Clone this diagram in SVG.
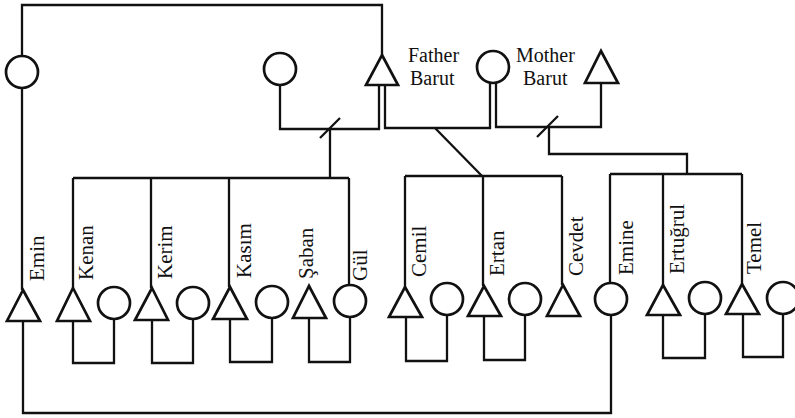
<svg xmlns="http://www.w3.org/2000/svg" width="795" height="418" viewBox="0 0 795 418">
<style>
.bg{fill:#fff}
.sh{fill:#fff;stroke:#111;stroke-width:2.7}
.ln{fill:none;stroke:#111;stroke-width:2.3;stroke-linejoin:miter}
.t{font-family:"Liberation Serif","Times New Roman",serif;font-size:21px;fill:#111}
.h{font-size:20px}
</style>
<rect class="bg" x="0" y="0" width="795" height="418"/>
<g id="connectors">
<path class="ln" d="M22,56 V5 H382 V55"/>
<path class="ln" d="M22,88 V290"/>
<path class="ln" d="M23,321 V413 H611 V315"/>
<path class="ln" d="M280,85 V129 H379 V85"/>
<path class="ln" d="M385,85 V128 H490 V83"/>
<path class="ln" d="M496,83 V127 H601 V83"/>
<path class="ln" d="M320,138 L340,118"/>
<path class="ln" d="M330,129 V178"/>
<path class="ln" d="M73,178 H349"/>
<path class="ln" d="M73,178 V288 M151,178 V288 M229,178 V287 M349,178 V285"/>
<path class="ln" d="M435,128 L482,176"/>
<path class="ln" d="M405,176 H562 M405,176 V287 M483,176 V286 M562,176 V285"/>
<path class="ln" d="M537,137 L558,116"/>
<path class="ln" d="M549,127 V154 H687 V174"/>
<path class="ln" d="M610,174 H742 M610,174 V283 M663,174 V285 M742,174 V284"/>
<path class="ln" d="M73,321 V363 H114 V319"/>
<path class="ln" d="M152,320 V363 H193 V319"/>
<path class="ln" d="M230,319 V362 H272 V318"/>
<path class="ln" d="M309,318 V362 H350 V317"/>
<path class="ln" d="M406,317 V361 H447 V315"/>
<path class="ln" d="M484,316 V360 H525 V315"/>
<path class="ln" d="M663,315 V358 H705 V314"/>
<path class="ln" d="M743,314 V357 H783 V314"/>
</g>
<g id="eminMother"><circle class="sh" cx="22" cy="72" r="16"/></g>
<g id="wifeFather"><circle class="sh" cx="280" cy="69" r="16"/></g>
<g id="fatherBarut"><path class="sh" d="M382,55 L398,85 L366,85 Z"/><text class="t h" x="408" y="62">Father</text><text class="t h" x="410" y="85">Barut</text></g>
<g id="motherMid"><circle class="sh" cx="493" cy="67" r="16"/></g>
<g id="motherBarut"><path class="sh" d="M601,51 L618,83 L585,83 Z"/><text class="t h" x="516" y="62">Mother</text><text class="t h" x="523" y="85">Barut</text></g>
<g id="emin"><path class="sh" d="M23,290 L40,321 L7,321 Z"/><text class="t" transform="translate(44,281) rotate(-90)">Emin</text></g>
<g id="kenan"><path class="sh" d="M73,288 L90,321 L57,321 Z"/><text class="t" transform="translate(93,280) rotate(-90)">Kenan</text></g>
<g id="kenanWife"><circle class="sh" cx="114" cy="303" r="16"/></g>
<g id="kerim"><path class="sh" d="M152,288 L168,320 L135,320 Z"/><text class="t" transform="translate(172,279) rotate(-90)">Kerim</text></g>
<g id="kerimWife"><circle class="sh" cx="193" cy="303" r="16"/></g>
<g id="kasim"><path class="sh" d="M230,287 L247,319 L213,319 Z"/><text class="t" transform="translate(251,278) rotate(-90)">Kasım</text></g>
<g id="kasimWife"><circle class="sh" cx="272" cy="302" r="16"/></g>
<g id="saban"><path class="sh" d="M309,286 L326,318 L293,318 Z"/><text class="t" transform="translate(313,279) rotate(-90)">Şaban</text></g>
<g id="gul"><circle class="sh" cx="350" cy="301" r="16"/><text class="t" transform="translate(367,281) rotate(-90)">Gül</text></g>
<g id="cemil"><path class="sh" d="M405,287 L422,317 L389,317 Z"/><text class="t" transform="translate(426,277) rotate(-90)">Cemil</text></g>
<g id="cemilWife"><circle class="sh" cx="447" cy="299" r="16"/></g>
<g id="ertan"><path class="sh" d="M484,286 L501,316 L468,316 Z"/><text class="t" transform="translate(504,276) rotate(-90)">Ertan</text></g>
<g id="ertanWife"><circle class="sh" cx="525" cy="299" r="16"/></g>
<g id="cevdet"><path class="sh" d="M563,285 L580,316 L547,316 Z"/><text class="t" transform="translate(583,276) rotate(-90)">Cevdet</text></g>
<g id="emine"><circle class="sh" cx="611" cy="299" r="16"/><text class="t" transform="translate(633,275) rotate(-90)">Emine</text></g>
<g id="ertugrul"><path class="sh" d="M663,285 L680,315 L647,315 Z"/><text class="t" transform="translate(684,274) rotate(-90)">Ertuğrul</text></g>
<g id="ertugrulWife"><circle class="sh" cx="705" cy="298" r="16"/></g>
<g id="temel"><path class="sh" d="M742,284 L759,314 L726,314 Z"/><text class="t" transform="translate(761,274) rotate(-90)">Temel</text></g>
<g id="temelWife"><circle class="sh" cx="783" cy="298" r="16"/></g>
</svg>
